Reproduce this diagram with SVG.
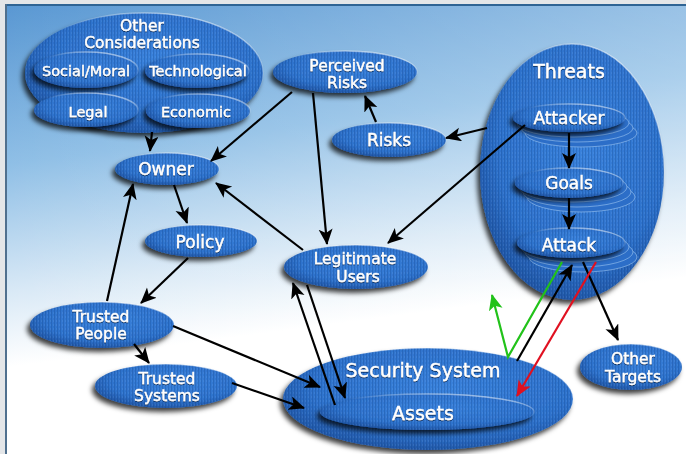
<svg xmlns="http://www.w3.org/2000/svg" width="686" height="454" viewBox="0 0 686 454">
<defs>
  <linearGradient id="bg" x1="0" y1="0" x2="0.2" y2="1">
    <stop offset="0" stop-color="#5796d2"/>
    <stop offset="0.35" stop-color="#8fbfe6"/>
    <stop offset="0.62" stop-color="#d9e9f6"/>
    <stop offset="0.78" stop-color="#ffffff"/>
  </linearGradient>
  <linearGradient id="bgR" x1="0" y1="0" x2="1" y2="0">
    <stop offset="0" stop-color="#ffffff" stop-opacity="0"/>
    <stop offset="1" stop-color="#ffffff" stop-opacity="0.25"/>
  </linearGradient>
  <radialGradient id="nf" cx="0.55" cy="0.4" r="0.6">
    <stop offset="0" stop-color="#3a82dc"/>
    <stop offset="0.75" stop-color="#2e72cc"/>
    <stop offset="1" stop-color="#2258a8"/>
  </radialGradient>
  <linearGradient id="rim" x1="0.2" y1="1" x2="0.8" y2="0">
    <stop offset="0.6" stop-color="#ffffff" stop-opacity="0"/>
    <stop offset="1" stop-color="#ffffff" stop-opacity="0.6"/>
  </linearGradient>
  <pattern id="tex" width="3" height="4" patternUnits="userSpaceOnUse">
    <rect x="0" y="0" width="1" height="4" fill="#0b3878" opacity="0.22"/>
    <rect x="2" y="0" width="1" height="2" fill="#7fb2f0" opacity="0.15"/>
  </pattern>
  <filter id="sh" x="-20%" y="-30%" width="140%" height="170%">
    <feGaussianBlur in="SourceAlpha" stdDeviation="2.5"/>
    <feOffset dx="-3" dy="4" result="b"/>
    <feFlood flood-color="#000" flood-opacity="0.75"/>
    <feComposite in2="b" operator="in" result="s"/>
    <feMerge><feMergeNode in="s"/><feMergeNode in="SourceGraphic"/></feMerge>
  </filter>
  <filter id="tsh" x="-10%" y="-30%" width="120%" height="160%">
    <feGaussianBlur in="SourceAlpha" stdDeviation="0.6"/>
    <feOffset dx="-0.5" dy="0.8" result="b"/>
    <feFlood flood-color="#06224a" flood-opacity="0.8"/>
    <feComposite in2="b" operator="in" result="s"/>
    <feMerge><feMergeNode in="s"/><feMergeNode in="SourceGraphic"/></feMerge>
  </filter>
  <marker id="ah" markerUnits="userSpaceOnUse" markerWidth="18" markerHeight="16" refX="15" refY="7" orient="auto">
    <path d="M0,0 L16,7 L0,14 L4,7 z" fill="#000"/>
  </marker>
  <marker id="ahG" markerUnits="userSpaceOnUse" markerWidth="18" markerHeight="16" refX="15" refY="7" orient="auto">
    <path d="M0,0 L16,7 L0,14 L4,7 z" fill="#22c21a"/>
  </marker>
  <marker id="ahR" markerUnits="userSpaceOnUse" markerWidth="18" markerHeight="16" refX="15" refY="7" orient="auto">
    <path d="M0,0 L16,7 L0,14 L4,7 z" fill="#e01020"/>
  </marker>
  <style>
    .b { fill: url(#nf); filter: url(#sh); }
    .t { fill: url(#tex); stroke: url(#rim); stroke-width: 1.4; }
    .ly { fill: #2c6ec8; stroke: #a8cdf4; stroke-width: 1; stroke-opacity: 0.55; }
    text { font-family: "DejaVu Sans", Verdana, sans-serif; fill: #ffffff; text-anchor: middle; stroke: #ffffff; stroke-width: 0.35; filter: url(#tsh); }
    .s { font-size: 14.5px; }
    .m { font-size: 17px; }
    .d { font-size: 15.5px; }
    .l { font-size: 19px; }
    .c { fill: none; stroke: #000; stroke-width: 2.2; marker-end: url(#ah); }
  </style>
</defs>

<rect x="0" y="0" width="686" height="454" fill="url(#bg)"/>
<rect x="0" y="0" width="686" height="454" fill="url(#bgR)"/>
<rect x="0" y="0" width="686" height="4" fill="#e4e6e8"/>
<rect x="0" y="4" width="686" height="2" fill="#2f6494"/>
<rect x="0" y="0" width="5" height="454" fill="#e4e6e8"/>
<rect x="5" y="4" width="2" height="450" fill="#50708e"/>

<g id="other-considerations">
  <ellipse class="b" cx="144" cy="73" rx="119" ry="60"/>
  <ellipse class="t" cx="144" cy="73" rx="119" ry="60"/>
  <text class="d" x="142" y="31">Other</text>
  <text class="d" x="142" y="48">Considerations</text>
</g>
<g id="social-moral">
  <ellipse class="b" cx="86" cy="70" rx="52" ry="18"/>
  <ellipse class="t" cx="86" cy="70" rx="52" ry="18"/>
  <text class="s" x="86" y="76">Social/Moral</text>
</g>
<g id="technological">
  <ellipse class="b" cx="197" cy="71" rx="52" ry="17"/>
  <ellipse class="t" cx="197" cy="71" rx="52" ry="17"/>
  <text class="s" x="198" y="76">Technological</text>
</g>
<g id="legal">
  <ellipse class="b" cx="86" cy="110" rx="52" ry="17"/>
  <ellipse class="t" cx="86" cy="110" rx="52" ry="17"/>
  <text class="s" x="88" y="117">Legal</text>
</g>
<g id="economic">
  <ellipse class="b" cx="198" cy="111" rx="52" ry="17"/>
  <ellipse class="t" cx="198" cy="111" rx="52" ry="17"/>
  <text class="s" x="196" y="117">Economic</text>
</g>

<g id="owner">
  <ellipse class="b" cx="167" cy="169" rx="52" ry="16"/>
  <ellipse class="t" cx="167" cy="169" rx="52" ry="16"/>
  <text class="m" x="166" y="175">Owner</text>
</g>

<g id="perceived-risks">
  <ellipse class="b" cx="345" cy="72" rx="72" ry="21"/>
  <ellipse class="t" cx="345" cy="72" rx="72" ry="21"/>
  <text class="d" x="347" y="71">Perceived</text>
  <text class="d" x="347" y="88">Risks</text>
</g>

<g id="risks">
  <ellipse class="b" cx="389" cy="140" rx="57" ry="17"/>
  <ellipse class="t" cx="389" cy="140" rx="57" ry="17"/>
  <text class="m" x="389" y="146">Risks</text>
</g>

<g id="threats">
  <ellipse class="b" cx="572" cy="172" rx="92" ry="128"/>
  <ellipse class="t" cx="572" cy="172" rx="92" ry="128"/>
  <text class="l" x="569" y="78">Threats</text>
</g>
<g id="attacker">
  <ellipse class="ly" cx="581" cy="133" rx="56" ry="14"/>
  <ellipse class="ly" cx="577" cy="128" rx="56" ry="14"/>
  <ellipse class="ly" cx="573" cy="123" rx="56" ry="14"/>
  <ellipse class="b" cx="569" cy="118" rx="56" ry="14"/>
  <ellipse class="t" cx="569" cy="118" rx="56" ry="14"/>
  <text class="m" x="569" y="124">Attacker</text>
</g>
<g id="goals">
  <ellipse class="ly" cx="581" cy="197" rx="54" ry="15"/>
  <ellipse class="ly" cx="577" cy="192" rx="54" ry="15"/>
  <ellipse class="ly" cx="573" cy="187" rx="54" ry="15"/>
  <ellipse class="b" cx="569" cy="183" rx="54" ry="15"/>
  <ellipse class="t" cx="569" cy="183" rx="54" ry="15"/>
  <text class="m" x="569" y="189">Goals</text>
</g>
<g id="attack">
  <ellipse class="ly" cx="583" cy="257" rx="54" ry="15"/>
  <ellipse class="ly" cx="579" cy="252" rx="54" ry="15"/>
  <ellipse class="ly" cx="575" cy="247" rx="54" ry="15"/>
  <ellipse class="b" cx="571" cy="243" rx="54" ry="15"/>
  <ellipse class="t" cx="571" cy="243" rx="54" ry="15"/>
  <text class="m" x="569" y="251">Attack</text>
</g>

<g id="policy">
  <ellipse class="b" cx="201" cy="241" rx="56" ry="16"/>
  <ellipse class="t" cx="201" cy="241" rx="56" ry="16"/>
  <text class="m" x="200" y="248">Policy</text>
</g>

<g id="legitimate-users">
  <ellipse class="b" cx="356" cy="267" rx="72" ry="22"/>
  <ellipse class="t" cx="356" cy="267" rx="72" ry="22"/>
  <text class="d" x="355" y="264">Legitimate</text>
  <text class="d" x="358" y="282">Users</text>
</g>

<g id="trusted-people">
  <ellipse class="b" cx="102" cy="325" rx="72" ry="23"/>
  <ellipse class="t" cx="102" cy="325" rx="72" ry="23"/>
  <text class="d" x="101" y="322">Trusted</text>
  <text class="d" x="101" y="339">People</text>
</g>

<g id="trusted-systems">
  <ellipse class="b" cx="166" cy="386" rx="71" ry="22"/>
  <ellipse class="t" cx="166" cy="386" rx="71" ry="22"/>
  <text class="d" x="167" y="384">Trusted</text>
  <text class="d" x="167" y="401">Systems</text>
</g>

<g id="security-system">
  <ellipse class="b" cx="428" cy="399" rx="145" ry="51"/>
  <ellipse class="t" cx="428" cy="399" rx="145" ry="51"/>
  <text class="l" x="423" y="377">Security System</text>
</g>
<g id="assets">
  <ellipse class="b" cx="427" cy="412" rx="107" ry="18"/>
  <ellipse class="t" cx="427" cy="412" rx="107" ry="18"/>
  <text class="l" x="423" y="420">Assets</text>
</g>

<g id="other-targets">
  <ellipse class="b" cx="631" cy="367" rx="51" ry="23"/>
  <ellipse class="t" cx="631" cy="367" rx="51" ry="23"/>
  <text class="d" x="633" y="364">Other</text>
  <text class="d" x="633" y="382">Targets</text>
</g>

<g id="connectors">
  <line class="c" x1="152" y1="132" x2="150" y2="151"/>
  <line class="c" x1="292" y1="92" x2="211" y2="161"/>
  <line class="c" x1="313" y1="93" x2="327" y2="244"/>
  <line class="c" x1="376" y1="122" x2="365" y2="96"/>
  <line class="c" x1="487" y1="128" x2="446" y2="138"/>
  <line class="c" x1="525" y1="125" x2="388" y2="243"/>
  <line class="c" x1="569" y1="133" x2="569" y2="168"/>
  <line class="c" x1="569" y1="198" x2="569" y2="229"/>
  <line class="c" x1="303" y1="250" x2="216" y2="183"/>
  <line class="c" x1="174" y1="185" x2="187" y2="223"/>
  <line class="c" x1="188" y1="258" x2="141" y2="303"/>
  <line class="c" x1="107" y1="301" x2="133" y2="184"/>
  <line class="c" x1="134" y1="344" x2="149" y2="363"/>
  <line class="c" x1="173" y1="326" x2="320" y2="387"/>
  <line class="c" x1="232" y1="383" x2="304" y2="408"/>
  <line class="c" x1="335" y1="405" x2="293" y2="283"/>
  <line class="c" x1="307" y1="285" x2="345" y2="398"/>
  <line class="c" x1="583" y1="262" x2="618" y2="340"/>
  <polyline fill="none" stroke="#22c21a" stroke-width="2.2" marker-end="url(#ahG)" points="562,262 508,357 492,295"/>
  <line class="c" x1="517" y1="361" x2="572" y2="265"/>
  <line fill="none" stroke="#e01020" stroke-width="2.2" marker-end="url(#ahR)" x1="596" y1="262" x2="517" y2="396"/>
</g>
</svg>
